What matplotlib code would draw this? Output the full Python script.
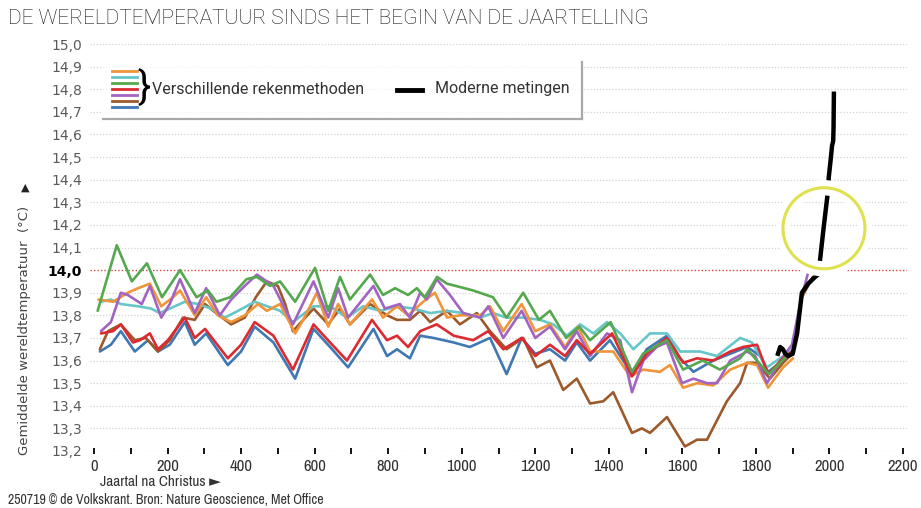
import numpy as np
import matplotlib.pyplot as plt
import matplotlib.patheffects as pe
from matplotlib import font_manager
from matplotlib.lines import Line2D
from matplotlib.patches import Ellipse

plt.rcParams['font.family'] = ['Roboto', 'DejaVu Sans']

# narrow face for the axis numbers, if there is one
narrow_names = sorted({f.name for f in font_manager.fontManager.ttflist
                       if 'Narrow' in f.name or 'Condensed' in f.name})
NARROW = narrow_names[0] if narrow_names else 'Roboto'

# reconstructions (year, temperature)
orange_years = [12, 52, 92, 120, 152, 183, 215, 234, 274, 305, 337, 373, 410, 446, 470, 506, 547, 569,
                606, 637, 664, 696, 756, 786, 824, 854, 895, 927, 960, 995, 1050, 1077, 1113, 1163, 1200,
                1240, 1281, 1316, 1349, 1385, 1412, 1458, 1494, 1539, 1566, 1602, 1640, 1684, 1730, 1776,
                1803, 1833, 1874, 1901]
orange_temps = [13.87, 13.86, 13.90, 13.92, 13.94, 13.84, 13.88, 13.91, 13.80, 13.88, 13.80, 13.77, 13.80,
                13.85, 13.82, 13.85, 13.72, 13.78, 13.90, 13.75, 13.85, 13.76, 13.87, 13.79, 13.84, 13.80,
                13.86, 13.90, 13.79, 13.80, 13.80, 13.84, 13.73, 13.85, 13.73, 13.76, 13.66, 13.75, 13.64,
                13.64, 13.64, 13.53, 13.56, 13.55, 13.58, 13.48, 13.50, 13.49, 13.56, 13.59, 13.58, 13.48,
                13.57, 13.61]

cyan_years = [19, 46, 73, 120, 155, 179, 220, 247, 283, 318, 356, 392, 437, 506, 541, 597, 642, 688, 732,
              779, 824, 868, 914, 960, 1004, 1050, 1085, 1122, 1167, 1213, 1249, 1286, 1322, 1358, 1395,
              1431, 1467, 1512, 1558, 1594, 1648, 1694, 1757, 1789, 1830, 1866, 1901]
cyan_temps = [13.86, 13.87, 13.85, 13.84, 13.83, 13.81, 13.84, 13.86, 13.85, 13.83, 13.79, 13.82, 13.86,
              13.82, 13.77, 13.84, 13.84, 13.79, 13.84, 13.82, 13.84, 13.83, 13.81, 13.82, 13.81, 13.79,
              13.81, 13.79, 13.79, 13.78, 13.76, 13.71, 13.76, 13.72, 13.77, 13.72, 13.65, 13.72, 13.72,
              13.64, 13.64, 13.62, 13.70, 13.68, 13.57, 13.61, 13.65]

green_years = [10, 62, 103, 144, 185, 234, 279, 310, 333, 370, 415, 443, 479, 506, 547, 601, 637, 669, 696,
               751, 786, 819, 854, 878, 900, 933, 960, 1031, 1085, 1122, 1167, 1210, 1240, 1284, 1320, 1349,
               1405, 1463, 1493, 1558, 1602, 1655, 1702, 1757, 1776, 1835, 1884]
green_temps = [13.82, 14.11, 13.95, 14.03, 13.88, 14.00, 13.88, 13.91, 13.86, 13.88, 13.96, 13.97, 13.93,
               13.95, 13.86, 14.01, 13.82, 13.97, 13.87, 13.98, 13.89, 13.92, 13.89, 13.92, 13.88, 13.97,
               13.94, 13.91, 13.88, 13.79, 13.90, 13.78, 13.82, 13.70, 13.75, 13.69, 13.77, 13.55, 13.63,
               13.69, 13.56, 13.60, 13.56, 13.61, 13.65, 13.54, 13.62]

red_years = [19, 52, 73, 106, 125, 152, 174, 201, 247, 274, 302, 364, 400, 437, 488, 541, 597, 642, 688,
             756, 797, 824, 854, 887, 932, 978, 1031, 1072, 1113, 1163, 1200, 1240, 1281, 1313, 1349, 1409,
             1463, 1503, 1558, 1602, 1640, 1684, 1730, 1765, 1803, 1833, 1874, 1898]
red_temps = [13.72, 13.73, 13.76, 13.68, 13.69, 13.72, 13.65, 13.69, 13.79, 13.70, 13.74, 13.61, 13.67,
             13.77, 13.71, 13.56, 13.76, 13.68, 13.60, 13.78, 13.69, 13.71, 13.66, 13.73, 13.76, 13.71,
             13.69, 13.73, 13.65, 13.70, 13.62, 13.67, 13.62, 13.69, 13.63, 13.72, 13.53, 13.63, 13.70,
             13.59, 13.61, 13.60, 13.64, 13.66, 13.67, 13.54, 13.61, 13.64]

purple_years = [19, 46, 73, 92, 130, 152, 183, 206, 234, 274, 305, 342, 373, 410, 443, 488, 541, 597, 637,
                664, 691, 760, 791, 832, 859, 887, 905, 932, 968, 1004, 1050, 1072, 1113, 1163, 1200, 1240,
                1281, 1313, 1349, 1395, 1431, 1463, 1494, 1530, 1558, 1599, 1630, 1667, 1694, 1730, 1776,
                1798, 1830, 1866, 1898, 1920, 1942, 1955]
purple_temps = [13.73, 13.77, 13.90, 13.89, 13.85, 13.93, 13.79, 13.85, 13.96, 13.81, 13.92, 13.80, 13.87,
                13.93, 13.98, 13.93, 13.76, 13.95, 13.79, 13.92, 13.79, 13.93, 13.83, 13.85, 13.79, 13.90,
                13.87, 13.96, 13.89, 13.81, 13.79, 13.84, 13.70, 13.82, 13.70, 13.75, 13.65, 13.73, 13.62,
                13.72, 13.69, 13.46, 13.60, 13.66, 13.68, 13.50, 13.52, 13.50, 13.50, 13.60, 13.64, 13.62,
                13.50, 13.60, 13.67, 13.85, 13.99, 14.02]

brown_years = [16, 38, 73, 111, 141, 174, 206, 242, 274, 302, 332, 373, 410, 440, 470, 500, 520, 541, 597,
               637, 669, 696, 751, 797, 824, 859, 887, 914, 960, 995, 1041, 1077, 1122, 1167, 1204, 1240,
               1276, 1313, 1349, 1385, 1412, 1463, 1490, 1512, 1558, 1607, 1640, 1667, 1721, 1757, 1776,
               1803, 1838, 1874, 1898, 1925, 1955]
brown_temps = [13.65, 13.73, 13.76, 13.69, 13.70, 13.64, 13.69, 13.79, 13.78, 13.85, 13.81, 13.76, 13.79,
               13.88, 13.95, 13.93, 13.85, 13.73, 13.83, 13.76, 13.83, 13.76, 13.85, 13.80, 13.78, 13.78,
               13.82, 13.77, 13.82, 13.76, 13.81, 13.73, 13.65, 13.70, 13.57, 13.60, 13.47, 13.52, 13.41,
               13.42, 13.46, 13.28, 13.30, 13.28, 13.35, 13.22, 13.25, 13.25, 13.42, 13.50, 13.59, 13.59,
               13.52, 13.59, 13.63, 13.88, 13.97]

blue_years = [16, 46, 73, 111, 147, 174, 206, 247, 274, 305, 364, 400, 437, 488, 547, 597, 642, 691, 760,
              797, 824, 859, 887, 923, 978, 1022, 1077, 1122, 1163, 1200, 1240, 1281, 1313, 1349, 1403,
              1463, 1503, 1558, 1594, 1630, 1684, 1730, 1776, 1812, 1833, 1874, 1898]
blue_temps = [13.64, 13.67, 13.73, 13.64, 13.69, 13.64, 13.67, 13.77, 13.67, 13.72, 13.58, 13.64, 13.75,
              13.68, 13.52, 13.74, 13.66, 13.57, 13.74, 13.62, 13.65, 13.61, 13.71, 13.70, 13.68, 13.66,
              13.70, 13.54, 13.70, 13.63, 13.65, 13.60, 13.68, 13.60, 13.69, 13.54, 13.65, 13.71, 13.61,
              13.55, 13.60, 13.63, 13.66, 13.62, 13.55, 13.60, 13.63]

# modern measurements (Met Office)
modern_years = [1860, 1866, 1873, 1880, 1887, 1900, 1912, 1925, 1942, 1961, 1969, 1974, 1985, 1996, 1998,
                2004, 2007, 2010, 2011, 2012]
modern_temps = [13.63, 13.66, 13.65, 13.63, 13.62, 13.63, 13.72, 13.90, 13.94, 13.97, 13.98, 14.04, 14.20,
                14.35, 14.41, 14.50, 14.55, 14.57, 14.62, 14.78]

# highlighted area around recent warming
highlight_year = 1985
highlight_temp = 14.185

series = [
    (blue_years, blue_temps, '#3f78b2'),
    (brown_years, brown_temps, '#9c5a2c'),
    (cyan_years, cyan_temps, '#66c6c9'),
    (orange_years, orange_temps, '#f0953a'),
    (purple_years, purple_temps, '#a264c2'),
    (red_years, red_temps, '#dc2a30'),
    (green_years, green_temps, '#55a84e'),
]
legend_colors = ['#f0953a', '#66c6c9', '#55a84e', '#dc2a30', '#a264c2', '#9c5a2c', '#3f78b2']

W, H = 921, 508
fig = plt.figure(figsize=(W / 100, H / 100), dpi=100)
ax = fig.add_axes([90.3 / W, 1 - 451 / H, 816.4 / W, 407 / H])
ax.set_xlim(-10, 2210)
ax.set_ylim(13.2, 15.0)

yticks = np.round(np.arange(13.2, 15.01, 0.1), 1)
for yv in yticks:
    if abs(yv - 14.0) > 1e-6:
        ax.axhline(yv, color='#d2d2d2', lw=0.9, ls=(0, (1, 1.5)), zorder=0)
ax.axhline(14.0, color='#d9473f', lw=1.0, ls=(0, (1, 1.5)), zorder=1)

for yrs, temps, col in series:
    ax.plot(yrs, temps, color=col, lw=1.9, solid_joinstyle='round', solid_capstyle='round', zorder=3)

ax.plot(modern_years, modern_temps, color='black', lw=3.2, solid_joinstyle='round', zorder=4)

circle = Ellipse((highlight_year, highlight_temp), width=82 / 0.3677, height=81 / 226,
                 fill=False, edgecolor='#dfe14e', lw=2.2, zorder=5,
                 path_effects=[pe.Stroke(linewidth=11, foreground='white'), pe.Normal()])
ax.add_patch(circle)

for s in ax.spines.values():
    s.set_visible(False)

ax.set_yticks(yticks)
ax.set_yticklabels([f'{v:.1f}'.replace('.', ',') for v in yticks], fontsize=10,
                   family=['DejaVu Sans'])
for lab, v in zip(ax.get_yticklabels(), yticks):
    if abs(v - 14.0) < 1e-6:
        lab.set_fontweight('bold')
        lab.set_color('black')
    else:
        lab.set_color('#5a5a5a')
ax.tick_params(axis='y', length=0, pad=6)

ax.set_xticks(np.arange(0, 2201, 100), minor=True)
ax.set_xticks(np.arange(0, 2201, 200))
ax.set_xticklabels([str(v) for v in range(0, 2201, 200)], fontsize=12,
                   family=[NARROW], color='#333333')
ax.tick_params(axis='x', which='both', direction='inout', length=5, width=1.3, color='black', pad=3)

# axis labels
fig.text(100 / W, 1 - 482 / H, 'Jaartal na Christus \u25ba', fontsize=11, color='#333333',
         family=[NARROW, 'DejaVu Sans'], va='center', ha='left')
fig.text(25 / W, 1 - 330 / H, 'Gemiddelde wereldtemperatuur  (\u00b0C)', rotation=90, fontsize=9.5,
         color='#444444', family=['DejaVu Sans'], va='center', ha='center')
fig.text(25 / W, 1 - 188 / H, '\u25b2', fontsize=8, color='#222222', family=['DejaVu Sans'],
         va='center', ha='center')

# title and source
fig.text(8 / W, 1 - 18 / H, 'DE WERELDTEMPERATUUR SINDS HET BEGIN VAN DE JAARTELLING', fontsize=15,
         fontweight='light', color='#111111', va='center', ha='left')
fig.text(8 / W, 1 - 500 / H, '250719 \u00a9 de Volkskrant. Bron: Nature Geoscience, Met Office',
         fontsize=10, color='#333333', family=[NARROW, 'DejaVu Sans'],
         va='center', ha='left')

# legend box
tf = fig.transFigure
fig.patches.append(plt.Rectangle((103 / W, 1 - 119 / H), 479 / W, 57 / H, transform=tf,
                                 facecolor='white', alpha=0.75, edgecolor='none', zorder=6))
fig.lines.append(Line2D([103 / W, 582 / W], [1 - 119 / H, 1 - 119 / H], transform=tf,
                        color='#a8a8a8', lw=1.6, zorder=7))
fig.lines.append(Line2D([582 / W, 582 / W], [1 - 62 / H, 1 - 119 / H], transform=tf,
                        color='#a8a8a8', lw=1.6, zorder=7))
for i, col in enumerate(legend_colors):
    yy = 1 - (71 + i * 6) / H
    fig.lines.append(Line2D([112 / W, 137 / W], [yy, yy], transform=tf, color=col, lw=2, zorder=8))
fig.text(138 / W, 1 - 88 / H, '}', fontsize=28, color='black', va='center',
         ha='left', zorder=8)
fig.text(152 / W, 1 - 89 / H, 'Verschillende rekenmethoden', fontsize=11.5, color='#333333',
         va='center', ha='left', zorder=8)
fig.lines.append(Line2D([397 / W, 422 / W], [1 - 90 / H, 1 - 90 / H], transform=tf, color='black',
                        lw=3.5, zorder=8))
fig.text(435 / W, 1 - 89 / H, 'Moderne metingen', fontsize=11.5, color='#333333', va='center',
         ha='left', zorder=8)

fig.savefig('out.png', dpi=100)
